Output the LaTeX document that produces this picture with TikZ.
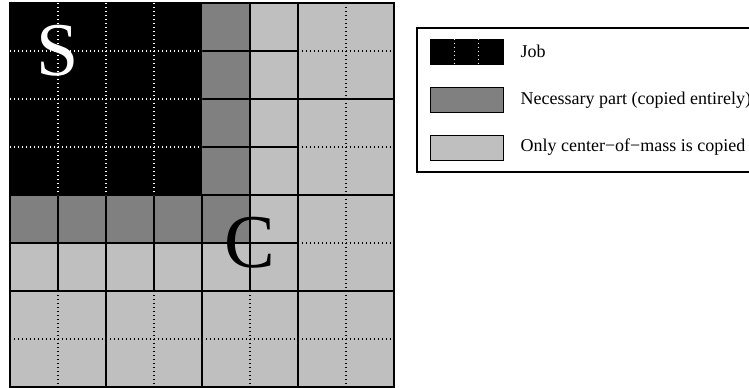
\documentclass[tikz,border=0pt]{standalone}
\usepackage{fontspec}
\setmainfont{Liberation Serif}
\usetikzlibrary{positioning, calc}
\definecolor{necgray}{gray}{0.5}
\definecolor{comgray}{gray}{0.75}

\begin{document}
\begin{tikzpicture}[
  x=0.75pt, y=-0.75pt,
  cellline/.style={line width=0.85pt},
  subline/.style={line width=1pt, dash pattern=on 0.9pt off 2.1pt},
  swatch/.style={draw=black, fill=#1, line width=0.5pt, inner sep=0pt,
                 minimum width=54.75pt, minimum height=18.75pt},
  entry/.style={font=\fontsize{13.5}{16}\selectfont, inner sep=0pt},
  bigletter/.style={font=\fontsize{57}{57}\selectfont, inner sep=0pt},
]
  \useasboundingbox (0,0) rectangle (749,387);

  % --- grid of cells ----------------------------------------------
  \begin{scope}[shift={(10,3)}, x=36pt, y=-36pt]
    \fill[comgray] (0,0) rectangle (8,8);
    \fill[necgray] (4,0) rectangle (5,5);
    \fill[necgray] (0,4) rectangle (5,5);
    \fill[black] (0,0) rectangle (4,4);

    % block borders
    \draw[cellline] (0,0) rectangle (8,8);
    \draw[cellline] (2,4) -- (2,8) (4,4) -- (4,8) (6,0) -- (6,8);
    \draw[cellline] (4,2) -- (8,2) (0,4) -- (8,4) (0,6) -- (8,6);
    % opened blocks round the necessary part
    \draw[cellline] (1,4) -- (1,6) (3,4) -- (3,6) (5,0) -- (5,6);
    \draw[cellline] (4,1) -- (6,1) (4,3) -- (6,3) (0,5) -- (6,5);
    % sub-cells of closed blocks
    \draw[subline] (1,6) -- (1,8) (3,6) -- (3,8) (5,6) -- (5,8) (7,0) -- (7,8);
    \draw[subline] (6,1) -- (8,1) (6,3) -- (8,3) (6,5) -- (8,5) (0,7) -- (8,7);
    \draw[subline, white] (1,0) -- (1,4) (2,0) -- (2,4) (3,0) -- (3,4);
    \draw[subline, white] (0,1) -- (4,1) (0,2) -- (4,2) (0,3) -- (4,3);

    \node[bigletter, text=white] (S) at (1,1) {S};
    \node[bigletter] (C) at (5,5) {C};
  \end{scope}

  % --- legend -----------------------------------------------------
  \draw[line width=1pt] (417,28) rectangle (790,172);

  \node[swatch=black] (job) at (466.5,51.5) {};
  \node[swatch=necgray] (nec) at (466.5,100) {};
  \node[swatch=comgray] (com) at (466.5,147.5) {};
  \draw[subline, white] ($(job.north west)!1/3!(job.north east)$) -- ($(job.south west)!1/3!(job.south east)$);
  \draw[subline, white] ($(job.north west)!2/3!(job.north east)$) -- ($(job.south west)!2/3!(job.south east)$);

  \node[entry, right=12.75pt of job] (jobtext) {Job};
  \node[entry, right=12.75pt of nec] (nectext) {Necessary part (copied entirely)};
  \node[entry, right=12.75pt of com] (comtext) {Only center−of−mass is copied};
\end{tikzpicture}
\end{document}
